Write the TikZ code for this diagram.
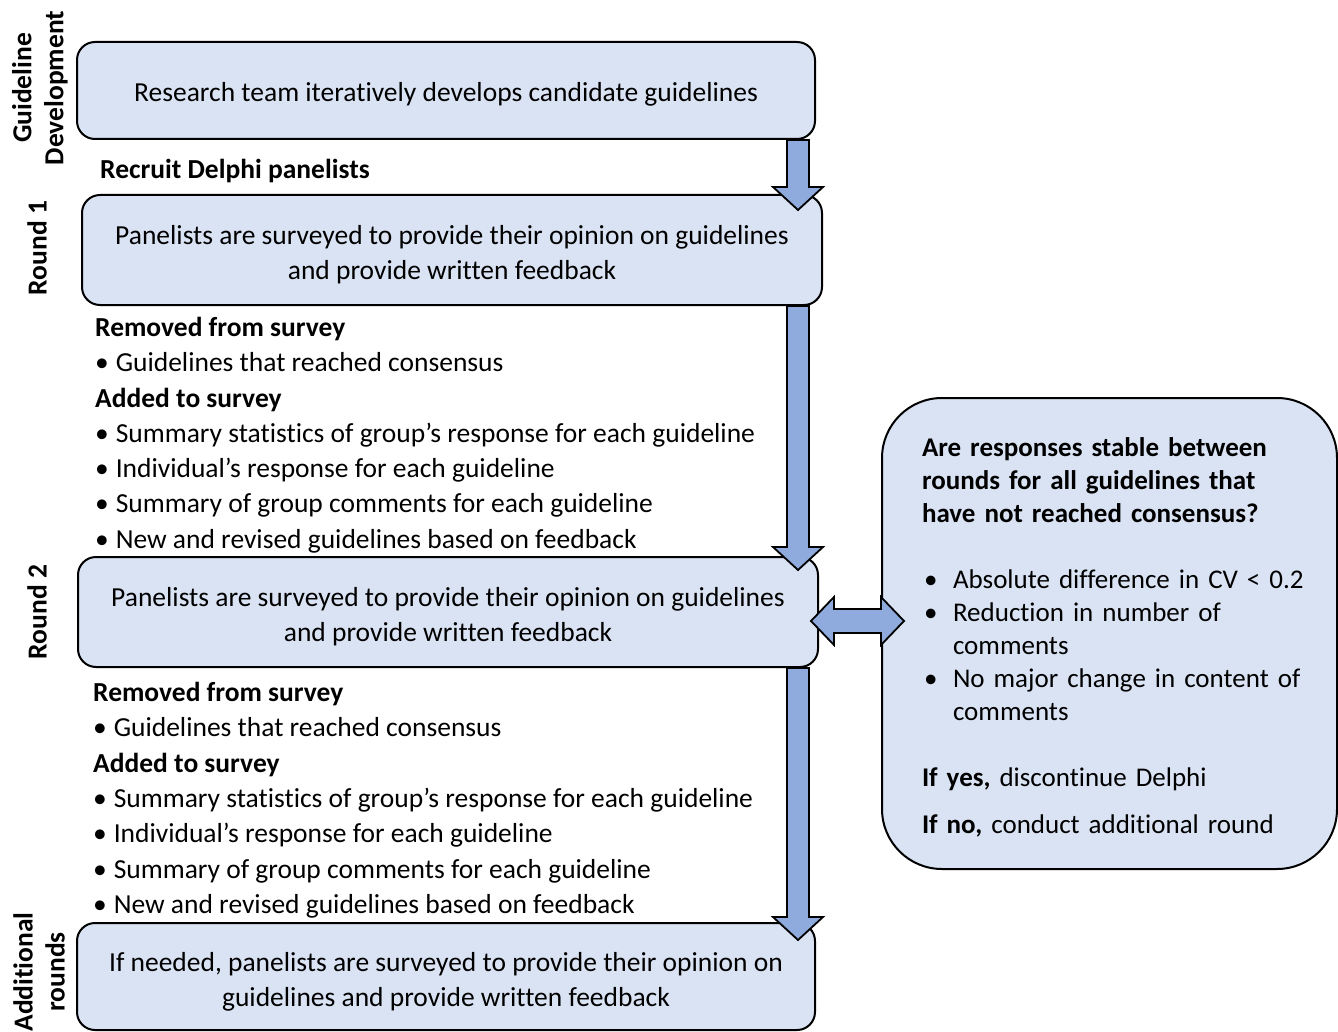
\documentclass[tikz,border=0pt]{standalone}
\usepackage{fontspec}
\setmainfont{Carlito}[Ligatures={TeX,NoCommon}]
\usepackage{xcolor}
\usetikzlibrary{calc}
\definecolor{boxblue}{HTML}{DAE3F3}
\definecolor{arrowblue}{HTML}{8FAADC}

\begin{document}
\begin{tikzpicture}[x=1pt, y=-1pt,
  stagebox/.style={draw=black, line width=2pt, fill=boxblue, rounded corners=18pt,
    align=center, inner sep=0pt, font=\fontsize{27.5}{35}\selectfont},
  stagelabel/.style={rotate=90, align=center, inner sep=0pt, font=\fontsize{27.5}{32}\selectfont\bfseries},
  notes/.style={anchor=north west, align=left, inner sep=0pt, font=\fontsize{27.5}{35.3}\selectfont},
  blockdown/.style={draw=black, line width=1.8pt, fill=arrowblue, line join=miter,
    to path={let \p1=(\tikztostart), \p2=(\tikztotarget) in
      (\x1-11pt,\y1) -- (\x1-11pt,\y2+23pt) -- (\x1-25pt,\y2+23pt) -- (\x1,\y2)
      -- (\x1+25pt,\y2+23pt) -- (\x1+11pt,\y2+23pt) -- (\x1+11pt,\y1) -- cycle}},
  blockboth/.style={draw=black, line width=1.8pt, fill=arrowblue, line join=miter,
    to path={let \p1=(\tikztostart), \p2=(\tikztotarget) in
      (\x1,\y1) -- (\x1+23pt,\y1+24pt) -- (\x1+23pt,\y1+12pt) -- (\x2-23pt,\y1+12pt)
      -- (\x2-23pt,\y1+24pt) -- (\x2,\y1) -- (\x2-23pt,\y1-24pt) -- (\x2-23pt,\y1-12pt)
      -- (\x1+23pt,\y1-12pt) -- (\x1+23pt,\y1-24pt) -- cycle}}]

\useasboundingbox (0,0) rectangle (1338,1032);

\node (devlbl) at (40,88) [stagelabel]{Guideline\\Development};
\node (r1lbl) at (37,248) [stagelabel]{Round 1};
\node (r2lbl) at (37,612) [stagelabel]{Round 2};
\node (addlbl) at (39,972) [stagelabel]{Additional\\rounds};

\node (dev) at (446,90.5) [stagebox, minimum width=738, minimum height=97]
  {\rule{0pt}{1em}Research team iteratively develops candidate guidelines};
\node (recruit) at (100,179) [anchor=base west, inner sep=0pt, font=\fontsize{27.5}{30}\selectfont\bfseries]
  {Recruit Delphi panelists};
\node (r1) at (452,250) [stagebox, minimum width=740, minimum height=110]
  {\rule{0pt}{1em}Panelists are surveyed to provide their opinion on guidelines\\and provide written feedback};
\node (r1notes) at (95,317) [notes]
  {\textbf{Removed from survey}\\
   •\hspace{0.25em}Guidelines that reached consensus\\
   \textbf{Added to survey}\\
   •\hspace{0.25em}Summary statistics of group’s response for each guideline\\
   •\hspace{0.25em}Individual’s response for each guideline\\
   •\hspace{0.25em}Summary of group comments for each guideline\\
   •\hspace{0.25em}New and revised guidelines based on feedback};
\node (r2) at (448,612) [stagebox, minimum width=740, minimum height=110]
  {\rule{0pt}{1em}Panelists are surveyed to provide their opinion on guidelines\\and provide written feedback};
\node (r2notes) at (93,682) [notes]
  {\textbf{Removed from survey}\\
   •\hspace{0.25em}Guidelines that reached consensus\\
   \textbf{Added to survey}\\
   •\hspace{0.25em}Summary statistics of group’s response for each guideline\\
   •\hspace{0.25em}Individual’s response for each guideline\\
   •\hspace{0.25em}Summary of group comments for each guideline\\
   •\hspace{0.25em}New and revised guidelines based on feedback};
\node (extra) at (446,976.5) [stagebox, minimum width=738, minimum height=107]
  {\rule{0pt}{1.1em}If needed, panelists are surveyed to provide their opinion on\\guidelines and provide written feedback};

\node (stable) at (1109.5,633.5) [draw=black, line width=2pt, fill=boxblue, rounded corners=60pt,
  minimum width=455, minimum height=471, inner xsep=40pt, inner ysep=0pt, text width=375pt,
  align=left, font=\fontsize{27}{33}\selectfont]
  {\rule{0pt}{1em}\textbf{Are responses stable between}\\
   \textbf{rounds for all guidelines that}\\
   \textbf{have not reached consensus?}\\[33pt]
   \makebox[31pt][l]{\hspace{2pt}•}\mbox{Absolute difference in CV < 0.2}\\
   \makebox[31pt][l]{\hspace{2pt}•}\mbox{Reduction in number of}\\
   \hspace*{31pt}comments\\
   \makebox[31pt][l]{\hspace{2pt}•}\mbox{No major change in content of}\\
   \hspace*{31pt}comments\\[33pt]
   \textbf{If yes,} discontinue Delphi\\[14pt]
   \textbf{If no,} conduct additional round};

\coordinate (axis) at (798,0);
\coordinate (tip1) at ($(axis |- r1.north)+(0,16)$);
\coordinate (tip2) at ($(axis |- r2.north)+(0,14)$);
\coordinate (tip3) at ($(axis |- extra.north)+(0,18)$);
\draw[blockdown] (axis |- dev.south) to (tip1);
\draw[blockdown] (axis |- r1.south) to (tip2);
\draw[blockdown] (axis |- r2.south) to (tip3);

\coordinate (bothl) at ($(r2.east)+(-8,9)$);
\coordinate (bothr) at ($(stable.west |- bothl)+(23,0)$);
\draw[blockboth] (bothl) to (bothr);

\end{tikzpicture}
\end{document}
